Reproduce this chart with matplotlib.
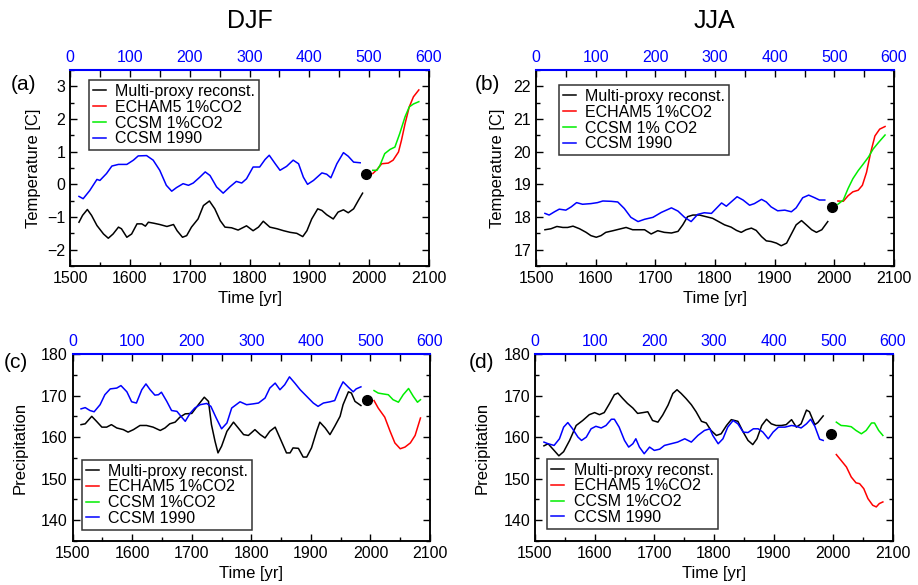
import matplotlib
matplotlib.use("Agg")
import matplotlib.pyplot as plt
from matplotlib.ticker import MultipleLocator

plt.rcParams['font.family'] = ['Liberation Sans', 'DejaVu Sans']

# ---------------- Panel (a): DJF temperature ----------------
a_proxy_yr = [1515, 1521, 1529, 1536, 1545, 1556, 1564, 1572, 1581, 1586, 1595, 1603, 1612, 1620, 1626, 1631,
              1640, 1650, 1662, 1673, 1679, 1688, 1695, 1703, 1714, 1723, 1733, 1742, 1751, 1759, 1770, 1781,
              1795, 1806, 1815, 1823, 1834, 1846, 1857, 1868, 1879, 1889, 1896, 1904, 1914, 1921, 1929, 1940,
              1948, 1957, 1965, 1974, 1982, 1989]
a_proxy = [-1.16, -0.95, -0.77, -0.95, -1.26, -1.52, -1.65, -1.52, -1.31, -1.36, -1.62, -1.52, -1.21, -1.21, -1.28, -1.16,
           -1.19, -1.23, -1.29, -1.23, -1.42, -1.62, -1.57, -1.31, -1.06, -0.65, -0.51, -0.75, -1.11, -1.31, -1.33, -1.40,
           -1.27, -1.42, -1.31, -1.13, -1.31, -1.36, -1.42, -1.47, -1.50, -1.60, -1.42, -1.06, -0.75, -0.80, -0.93, -1.06,
           -0.85, -0.78, -0.87, -0.75, -0.49, -0.27]
a_ctrl_yr = [15, 22, 33, 45, 50, 61, 70, 81, 95, 106, 114, 128, 139, 150, 161, 170, 178, 189, 198, 206, 217, 226,
             234, 245, 256, 267, 278, 287, 295, 306, 317, 326, 333, 343, 351, 362, 373, 382, 390, 397, 407, 421,
             429, 436, 446, 457, 465, 474, 485]
a_ctrl = [-0.37, -0.44, -0.19, 0.15, 0.12, 0.33, 0.56, 0.61, 0.61, 0.74, 0.87, 0.88, 0.74, 0.43, -0.03, -0.21, -0.10,
          0.02, -0.03, 0.04, 0.22, 0.38, 0.27, -0.08, -0.27, -0.08, 0.09, 0.04, 0.17, 0.53, 0.53, 0.76, 0.89, 0.63,
          0.43, 0.55, 0.74, 0.63, 0.22, 0.0, 0.12, 0.35, 0.31, 0.20, 0.63, 0.97, 0.86, 0.68, 0.66]
a_echam_yr = [2006, 2013, 2021, 2032, 2040, 2049, 2054, 2060, 2067, 2074, 2083]
a_echam = [0.33, 0.45, 0.63, 0.65, 0.74, 0.99, 1.35, 1.86, 2.37, 2.68, 2.89]
a_ccsm_yr = [2006, 2013, 2018, 2026, 2035, 2043, 2051, 2060, 2067, 2074, 2083]
a_ccsm = [0.43, 0.43, 0.58, 0.94, 1.07, 1.14, 1.55, 2.07, 2.37, 2.46, 2.53]
a_dot = (1995, 0.33)

# ---------------- Panel (b): JJA temperature ----------------
b_proxy_yr = [1515, 1525, 1535, 1545, 1553, 1562, 1573, 1584, 1592, 1601, 1609, 1617, 1629, 1640, 1651, 1662,
              1673, 1682, 1693, 1704, 1715, 1727, 1738, 1746, 1754, 1763, 1774, 1785, 1796, 1808, 1816, 1827,
              1836, 1844, 1852, 1861, 1869, 1878, 1886, 1894, 1903, 1911, 1920, 1928, 1936, 1945, 1953, 1962,
              1970, 1979, 1989]
b_proxy = [17.61, 17.64, 17.71, 17.68, 17.68, 17.72, 17.64, 17.53, 17.43, 17.38, 17.43, 17.53, 17.58, 17.63, 17.68,
           17.61, 17.61, 17.61, 17.48, 17.58, 17.53, 17.51, 17.56, 17.76, 18.01, 18.06, 18.06, 18.01, 17.96, 17.84,
           17.76, 17.69, 17.59, 17.53, 17.61, 17.66, 17.59, 17.40, 17.27, 17.25, 17.20, 17.12, 17.20, 17.48, 17.76,
           17.89, 17.76, 17.61, 17.53, 17.61, 17.86]
b_ctrl_yr = [15, 22, 31, 39, 50, 59, 68, 78, 92, 103, 112, 126, 137, 148, 159, 171, 182, 196, 210, 227, 238, 249,
             260, 271, 282, 294, 302, 311, 319, 327, 337, 347, 358, 366, 378, 386, 394, 405, 417, 428, 436, 447,
             457, 467, 475, 484]
b_ctrl = [18.11, 18.06, 18.16, 18.24, 18.21, 18.31, 18.44, 18.39, 18.41, 18.44, 18.49, 18.48, 18.46, 18.26, 17.99,
          17.86, 17.93, 17.99, 18.14, 18.28, 18.18, 17.99, 17.86, 18.08, 18.13, 18.11, 18.26, 18.43, 18.33, 18.46,
          18.62, 18.52, 18.36, 18.41, 18.54, 18.46, 18.31, 18.19, 18.21, 18.16, 18.28, 18.59, 18.67, 18.59, 18.52,
          18.52]
b_echam_yr = [2006, 2015, 2023, 2031, 2040, 2047, 2054, 2061, 2068, 2076, 2085]
b_echam = [18.49, 18.48, 18.65, 18.77, 18.82, 18.97, 19.37, 19.98, 20.48, 20.69, 20.77]
b_ccsm_yr = [2006, 2015, 2023, 2031, 2040, 2048, 2057, 2065, 2074, 2085]
b_ccsm = [18.39, 18.52, 18.87, 19.17, 19.42, 19.61, 19.83, 20.08, 20.28, 20.51]
b_dot = (1996, 18.31)

# ---------------- Panel (c): DJF precipitation ----------------
c_proxy_yr = [1514, 1521, 1532, 1540, 1549, 1557, 1565, 1574, 1585, 1593, 1602, 1613, 1624, 1635, 1647, 1655,
              1663, 1672, 1680, 1689, 1700, 1711, 1721, 1728, 1733, 1739, 1744, 1750, 1759, 1770, 1778, 1787,
              1795, 1806, 1815, 1823, 1831, 1840, 1848, 1859, 1865, 1870, 1879, 1887, 1893, 1901, 1910, 1915,
              1924, 1932, 1940, 1949, 1954, 1963, 1968, 1974, 1984]
c_proxy = [163.0, 163.2, 165.0, 163.8, 162.4, 162.4, 163.0, 162.2, 161.8, 161.2, 161.8, 162.8, 162.8, 162.4, 161.6,
           162.2, 163.2, 163.6, 164.8, 165.6, 165.7, 167.8, 169.6, 168.6, 163.0, 159.0, 156.2, 157.8, 161.4, 163.6,
           162.2, 160.6, 160.4, 161.8, 160.6, 159.8, 161.4, 162.4, 159.8, 156.2, 156.2, 157.4, 157.3, 155.2, 155.2,
           157.4, 161.6, 163.6, 162.2, 160.6, 162.6, 165.0, 167.8, 170.9, 170.6, 168.6, 167.6]
c_ctrl_yr = [14, 21, 29, 36, 46, 54, 63, 74, 81, 91, 99, 107, 116, 123, 130, 138, 144, 149, 158, 166, 175, 183,
             189, 197, 205, 214, 225, 232, 241, 250, 259, 267, 281, 292, 303, 312, 323, 331, 340, 348, 356, 364,
             373, 382, 393, 404, 412, 421, 432, 440, 448, 454, 463, 471, 476, 484]
c_ctrl = [166.8, 167.1, 166.4, 166.1, 167.8, 170.2, 171.6, 171.8, 172.4, 170.9, 168.5, 168.2, 171.4, 172.8, 171.4,
          170.1, 170.2, 170.8, 168.6, 166.4, 166.2, 164.8, 163.8, 165.7, 167.0, 167.8, 168.1, 167.4, 164.6, 162.0,
          163.4, 167.0, 168.5, 167.8, 168.0, 168.2, 169.4, 171.8, 173.0, 171.4, 172.6, 174.5, 173.0, 171.4, 169.8,
          168.2, 167.4, 168.2, 168.5, 168.8, 171.6, 173.3, 172.0, 170.9, 171.6, 172.1]
c_echam_yr = [2006, 2013, 2024, 2033, 2041, 2050, 2058, 2067, 2075, 2084]
c_echam = [168.8, 167.0, 164.8, 161.4, 158.6, 157.2, 157.6, 158.6, 160.4, 164.6]
c_ccsm_yr = [2006, 2013, 2021, 2030, 2038, 2047, 2055, 2064, 2072, 2079, 2084]
c_ccsm = [171.2, 170.6, 170.4, 170.2, 169.0, 168.4, 170.2, 171.7, 169.8, 168.4, 169.0]
c_dot = (1995, 169.0)

# ---------------- Panel (d): JJA precipitation ----------------
d_proxy_yr = [1515, 1522, 1532, 1540, 1548, 1558, 1569, 1580, 1591, 1600, 1608, 1616, 1625, 1633, 1639, 1647,
              1655, 1664, 1672, 1681, 1689, 1697, 1706, 1714, 1723, 1731, 1738, 1745, 1753, 1762, 1770, 1779,
              1787, 1795, 1804, 1812, 1821, 1829, 1840, 1849, 1857, 1865, 1872, 1880, 1888, 1896, 1904, 1913,
              1921, 1930, 1938, 1946, 1955, 1960, 1969, 1974, 1983]
d_proxy = [157.9, 158.4, 156.8, 155.5, 156.5, 159.2, 162.8, 164.0, 165.4, 165.9, 165.4, 165.9, 168.1, 170.2, 170.6,
           169.3, 168.1, 167.0, 165.7, 165.9, 166.1, 164.0, 163.6, 165.3, 167.7, 170.5, 171.4, 170.5, 169.3, 167.8,
           166.1, 163.8, 163.4, 161.6, 160.4, 160.8, 162.8, 164.2, 163.8, 161.2, 159.2, 158.2, 159.6, 162.8, 164.3,
           163.2, 162.8, 162.8, 163.0, 164.2, 162.4, 163.2, 166.5, 166.1, 163.0, 163.5, 165.1]
d_ctrl_yr = [15, 22, 32, 41, 48, 55, 63, 72, 78, 86, 94, 102, 111, 119, 128, 133, 141, 150, 157, 164, 169, 175,
             183, 192, 200, 209, 217, 228, 239, 251, 262, 273, 284, 293, 298, 307, 315, 323, 332, 340, 349, 357,
             366, 374, 382, 391, 399, 408, 419, 430, 438, 446, 455, 462, 469, 477, 483]
d_ctrl = [158.8, 158.4, 158.0, 159.6, 162.4, 163.5, 162.0, 160.0, 159.2, 160.0, 162.0, 162.6, 162.2, 162.8, 164.3,
          164.3, 162.4, 159.2, 157.6, 158.4, 159.6, 157.6, 156.0, 157.6, 156.8, 157.1, 158.0, 158.4, 158.8, 159.6,
          158.8, 160.4, 161.6, 162.0, 160.4, 158.4, 159.6, 162.4, 164.0, 163.2, 161.2, 161.1, 162.0, 162.0, 161.2,
          159.6, 161.2, 162.4, 162.4, 162.8, 162.6, 162.2, 163.2, 164.3, 162.6, 159.5, 159.2]
d_echam_yr = [2005, 2013, 2022, 2030, 2038, 2044, 2051, 2058, 2066, 2072, 2077, 2083]
d_echam = [155.8, 154.4, 152.8, 150.4, 149.0, 148.8, 147.6, 145.2, 143.6, 143.2, 144.0, 144.4]
d_ccsm_yr = [2005, 2013, 2022, 2030, 2038, 2047, 2055, 2064, 2069, 2076, 2083]
d_ccsm = [163.6, 162.8, 162.7, 162.5, 161.6, 160.8, 161.6, 163.4, 163.4, 161.6, 160.4]
d_dot = (1996, 160.7)

labels_std = ["Multi-proxy reconst.", "ECHAM5 1%CO2", "CCSM 1%CO2", "CCSM 1990"]
labels_b = ["Multi-proxy reconst.", "ECHAM5 1%CO2", "CCSM 1% CO2", "CCSM 1990"]

W, H = 918, 585
fig = plt.figure(figsize=(W / 100, H / 100), dpi=100)

TICK_FS = 11.5
LAB_FS = 12
LEG_FS = 11.5


def px_axes(l, t, r, b):
    return fig.add_axes([l / W, 1 - b / H, (r - l) / W, (b - t) / H])


def make_panel(rect, proxy, ctrl, echam, ccsm, dot, ylim, ymaj, ymin, ylabel, ylabelpad, labels,
               leg_loc, leg_anchor, tag, tag_xy):
    ax = px_axes(*rect)
    ax.set_xlim(1500, 2100)
    ax.set_ylim(*ylim)
    ax2 = ax.twiny()
    ax2.set_xlim(0, 600)

    l1, = ax.plot(proxy[0], proxy[1], color='black', lw=1.1)
    l2, = ax.plot(echam[0], echam[1], color='#ff0000', lw=1.1)
    l3, = ax.plot(ccsm[0], ccsm[1], color='#00ee00', lw=1.1)
    l4, = ax2.plot(ctrl[0], ctrl[1], color='#0000ff', lw=1.1)
    ax.plot([dot[0]], [dot[1]], 'o', color='black', ms=7, zorder=5)

    ax.xaxis.set_major_locator(MultipleLocator(100))
    ax.xaxis.set_minor_locator(MultipleLocator(50))
    ax.yaxis.set_major_locator(MultipleLocator(ymaj))
    ax.yaxis.set_minor_locator(MultipleLocator(ymin))
    ax.tick_params(which='both', direction='in', right=True, top=False, labelsize=TICK_FS)
    ax.tick_params(which='major', length=5, width=1)
    ax.tick_params(which='minor', length=3, width=1)
    ax2.xaxis.set_major_locator(MultipleLocator(100))
    ax2.xaxis.set_minor_locator(MultipleLocator(50))
    ax2.tick_params(which='both', direction='in', labelsize=TICK_FS, labelcolor='#0000ff')
    ax2.tick_params(which='major', length=5, width=1)
    ax2.tick_params(which='minor', length=5, width=1)
    for s in ['left', 'right', 'bottom']:
        ax.spines[s].set_linewidth(1.1)
        ax2.spines[s].set_linewidth(1.1)
    ax2.spines['top'].set_color('#0000ff')
    ax2.spines['top'].set_linewidth(1.5)
    ax.spines['top'].set_visible(False)

    ax.set_xlabel("Time [yr]", fontsize=LAB_FS, labelpad=4)
    ax.set_ylabel(ylabel, fontsize=LAB_FS, labelpad=ylabelpad)

    leg = ax2.legend([l1, l2, l3, l4], labels, loc=leg_loc, bbox_to_anchor=leg_anchor,
                     bbox_transform=ax.transAxes, fontsize=LEG_FS, frameon=True, fancybox=False,
                     framealpha=1, edgecolor='#333333', handlelength=0.8, handletextpad=0.6,
                     labelspacing=0.05, borderpad=0.25, borderaxespad=0)
    leg.get_frame().set_linewidth(1.1)
    fig.text(tag_xy[0] / W, 1 - tag_xy[1] / H, tag, fontsize=15, ha='center', va='center')
    return ax


make_panel((70, 70, 429, 266), (a_proxy_yr, a_proxy), (a_ctrl_yr, a_ctrl), (a_echam_yr, a_echam),
           (a_ccsm_yr, a_ccsm), a_dot, (-2.5, 3.5), 1, 0.5, "Temperature [C]", 4, labels_std,
           'upper left', (0.053, 0.949), "(a)", (24, 85))
make_panel((536, 70, 894, 266), (b_proxy_yr, b_proxy), (b_ctrl_yr, b_ctrl), (b_echam_yr, b_echam),
           (b_ccsm_yr, b_ccsm), b_dot, (16.5, 22.5), 1, 0.5, "Temperature [C]", 6, labels_b,
           'upper left', (0.064, 0.923), "(b)", (487, 85))
make_panel((72.7, 354, 430, 541), (c_proxy_yr, c_proxy), (c_ctrl_yr, c_ctrl), (c_echam_yr, c_echam),
           (c_ccsm_yr, c_ccsm), c_dot, (135, 180), 10, 5, "Precipitation", 10, labels_std,
           'lower left', (0.026, 0.059), "(c)", (16, 363))
make_panel((535, 354, 893, 541), (d_proxy_yr, d_proxy), (d_ctrl_yr, d_ctrl), (d_echam_yr, d_echam),
           (d_ccsm_yr, d_ccsm), d_dot, (135, 180), 10, 5, "Precipitation", 10, labels_std,
           'lower left', (0.034, 0.064), "(d)", (481, 363))

fig.text(250 / W, 1 - 21 / H, "DJF", fontsize=18, ha='center', va='center')
fig.text(714 / W, 1 - 21 / H, "JJA", fontsize=18, ha='center', va='center')

fig.savefig("out.png", dpi=100)
